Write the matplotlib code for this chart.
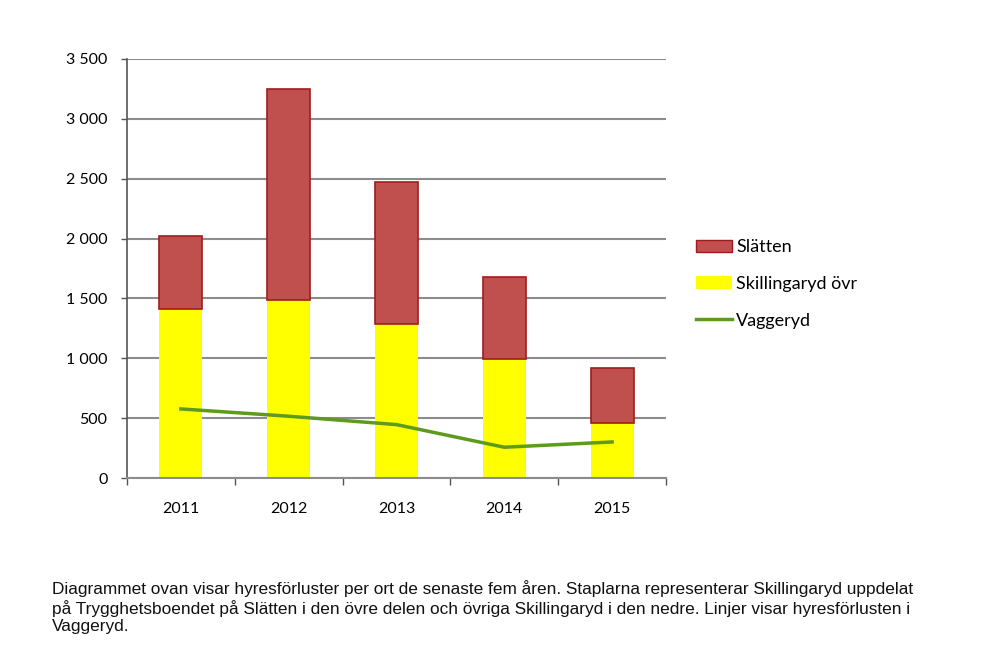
import matplotlib.pyplot as plt
import numpy as np
from matplotlib.patches import Patch
from matplotlib.lines import Line2D
from matplotlib.ticker import FuncFormatter, FixedLocator

# Data
ar = ["2011", "2012", "2013", "2014", "2015"]
skillingaryd_ovr = [1414, 1484, 1283, 990, 463]
slatten = [608, 1765, 1188, 686, 452]
vaggeryd = [577, 516, 446, 257, 301]

fig = plt.figure(figsize=(9.92, 6.58), dpi=100)
ax = fig.add_axes([127 / 992, 1 - 478 / 658, 539 / 992, 419 / 658])

x = np.arange(len(ar))
ax.bar(x, skillingaryd_ovr, width=0.4, color="#ffff00", zorder=2)
ax.bar(x, slatten, width=0.4, bottom=skillingaryd_ovr, color="#c0504d",
       edgecolor="#a01c1c", linewidth=1.2, zorder=2)
ax.plot(x, vaggeryd, color="#5e9a1e", linewidth=2.5, zorder=3)

ax.set_xlim(-0.5, len(ar) - 0.5)
ax.set_ylim(0, 3500)
ax.set_yticks(np.arange(0, 3501, 500))
ax.yaxis.set_major_formatter(FuncFormatter(lambda v, p: f"{int(v):,}".replace(",", " ")))
ax.grid(axis="y", color="#8c8c8c", linewidth=1.5, zorder=0)
ax.set_axisbelow(True)

ax.set_xticks(x)
ax.set_xticklabels(ar)
ax.xaxis.set_minor_locator(FixedLocator(np.arange(-0.5, len(ar), 1.0)))
ax.tick_params(axis="x", which="major", length=0, pad=17)
ax.tick_params(axis="x", which="minor", length=5, width=1, color="#555555", direction="out")
ax.tick_params(axis="y", length=4, width=1, color="#555555", pad=10)
for lbl in ax.get_xticklabels() + ax.get_yticklabels():
    lbl.set_fontfamily("Lato")
    lbl.set_fontsize(11.5)
    lbl.set_color("#000000")

for s in ["top", "right"]:
    ax.spines[s].set_visible(False)
ax.spines["left"].set_color("#555555")
ax.spines["left"].set_linewidth(1.2)
ax.spines["bottom"].set_color("#8c8c8c")
ax.spines["bottom"].set_linewidth(1.5)

legende = [
    Patch(facecolor="#c0504d", edgecolor="#a01c1c", linewidth=1, label="Slätten"),
    Patch(facecolor="#ffff00", label="Skillingaryd övr"),
    Line2D([0], [0], color="#5e9a1e", linewidth=2.5, label="Vaggeryd"),
]
fig.legend(handles=legende, loc="upper left", bbox_to_anchor=(680 / 992, 1 - 223 / 658),
           frameon=False, handlelength=2.0, handletextpad=0.2, labelspacing=1.15,
           prop={"family": "Lato", "size": 13})

fig.text(52 / 992, 1 - 580 / 658,
         "Diagrammet ovan visar hyresförluster per ort de senaste fem åren. Staplarna representerar Skillingaryd uppdelat\n"
         "på Trygghetsboendet på Slätten i den övre delen och övriga Skillingaryd i den nedre. Linjer visar hyresförlusten i\n"
         "Vaggeryd.",
         family="Liberation Sans", fontsize=12.4, va="top", ha="left",
         linespacing=1.21, color="#111111")

fig.savefig("out.png", dpi=100, facecolor="white")
